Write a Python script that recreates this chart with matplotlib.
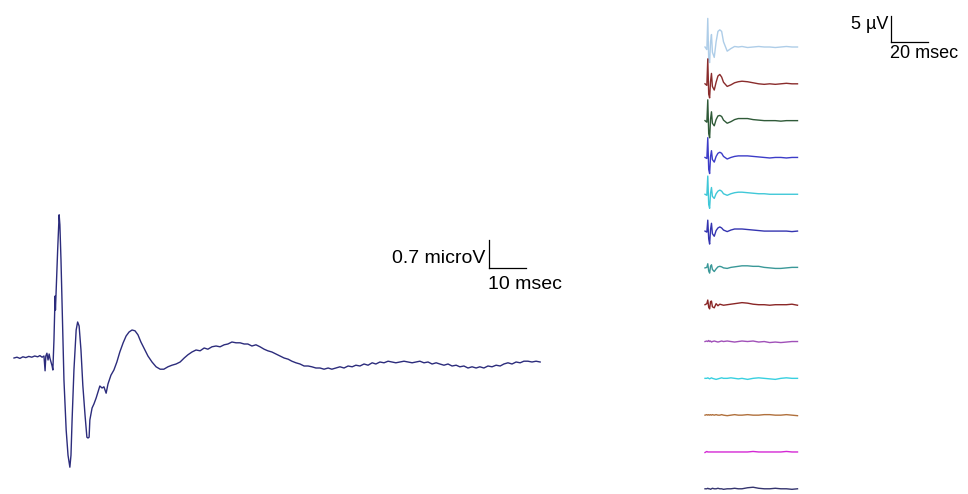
import numpy as np
from matplotlib import pyplot as plt

plt.rcParams['font.family'] = ['Liberation Sans', 'DejaVu Sans']

# grand average trace (time in msec, amplitude in microV)
avg_time = [0.0, 0.8, 1.6, 2.4, 3.2, 4.0, 4.8, 5.6, 6.4, 7.0, 7.6, 8.1,
            8.4, 8.6, 8.9, 9.2, 9.5, 9.7, 10.3, 10.5, 10.8, 11.1, 11.2, 11.4,
            11.8, 12.2, 12.4, 12.7, 13.1, 13.5, 14.1, 14.6, 14.9, 15.1, 15.4,
            15.7, 16.2, 16.8, 17.2, 17.6, 18.1, 18.6, 19.2, 19.7, 20.0, 20.3,
            20.5, 21.1, 21.6, 22.2, 22.7, 23.2, 23.8, 24.3, 24.9, 25.4, 26.2,
            27.0, 27.8, 28.6, 29.5, 30.3, 31.1, 31.9, 32.7, 33.5, 34.3, 35.1,
            36.2, 37.3, 38.4, 39.5, 40.5, 41.6, 42.7, 43.8, 44.9, 46.0, 47.0,
            48.1, 49.2, 50.3, 51.4, 52.4, 53.5, 54.6, 55.7, 56.8, 57.8, 58.9,
            60.0, 61.1, 62.2, 63.2, 64.3, 65.4, 66.5, 67.6, 68.6, 69.7, 70.8,
            71.9, 73.0, 74.1, 75.1, 76.2, 77.3, 78.4, 79.5, 80.5, 81.6, 82.7,
            83.8, 84.9, 85.9, 87.0, 88.1, 89.2, 90.3, 91.4, 92.4, 93.5, 94.6,
            95.7, 96.8, 97.8, 98.9, 100.0, 101.1, 102.2, 103.2, 104.3, 105.4,
            106.5, 107.6, 108.6, 109.7, 110.8, 111.9, 113.0, 114.1, 115.1,
            116.2, 117.3, 118.4, 119.5, 120.5, 121.6, 122.7, 123.8, 124.9,
            125.9, 127.0, 128.1, 129.2, 130.3, 131.4, 132.4, 133.5, 134.6,
            135.7, 136.8, 137.8, 138.9, 140.0, 141.1, 142.2]
avg_value = [0.00, 0.02, -0.01, 0.03, 0.01, 0.04, 0.02, 0.05, 0.03, 0.06, 0.02, 0.05,
             -0.32, 0.05, 0.12, -0.05, 0.10, 0.00, -0.20, -0.30, 0.45, 1.55, 1.20, 1.70,
             2.70, 3.58, 3.33, 2.45, 0.95, -0.55, -1.80, -2.43, -2.60, -2.73, -2.43,
             -1.55, -0.30, 0.70, 0.90, 0.80, 0.20, -0.68, -1.43, -1.98, -2.00, -1.98,
             -1.55, -1.25, -1.15, -1.00, -0.85, -0.70, -0.75, -0.72, -0.88, -0.65, -0.43,
             -0.30, -0.10, 0.15, 0.38, 0.55, 0.65, 0.70, 0.68, 0.58, 0.40, 0.25,
             0.05, -0.10, -0.22, -0.28, -0.28, -0.22, -0.18, -0.15, -0.10, 0.00, 0.08,
             0.15, 0.20, 0.18, 0.25, 0.22, 0.28, 0.30, 0.28, 0.33, 0.35, 0.40,
             0.38, 0.38, 0.35, 0.35, 0.30, 0.33, 0.28, 0.22, 0.18, 0.15, 0.10,
             0.05, 0.00, -0.03, -0.08, -0.12, -0.15, -0.20, -0.20, -0.22, -0.25, -0.25,
             -0.28, -0.25, -0.28, -0.25, -0.22, -0.25, -0.20, -0.22, -0.18, -0.20, -0.15,
             -0.18, -0.12, -0.15, -0.10, -0.12, -0.08, -0.10, -0.12, -0.10, -0.08,
             -0.10, -0.12, -0.10, -0.08, -0.12, -0.10, -0.15, -0.12, -0.15,
             -0.18, -0.15, -0.20, -0.18, -0.22, -0.20, -0.25, -0.22, -0.25,
             -0.22, -0.25, -0.20, -0.22, -0.18, -0.20, -0.15, -0.12, -0.15,
             -0.10, -0.12, -0.08, -0.08, -0.10, -0.08, -0.10]

# individual traces (time in msec, amplitude in microV)
tr_time = [0, 1, 1.5, 2, 2.5, 3, 3.5, 4, 5, 6, 7, 8, 9, 10, 12, 14, 16, 18, 20,
           23, 26, 29, 32, 35, 38, 41, 44, 47, 50]
tr_1 = [0, -0.5, 5.5, -2.5, -3.0, 1.0, 2.4, -1.0, -2.0, 1.0, 3.0, 3.3, 3.0, 1.0, -0.8,
        -0.3, 0.1, 0.0, 0.1, -0.1, 0.0, 0.1, 0.0, 0.0, -0.1, 0.0, 0.1, 0.0, 0.0]
tr_2 = [0, -0.3, 4.8, -2.0, -2.7, 0.5, 2.0, -0.5, -1.2, 0.3, 1.5, 1.8, 1.3, 0.3, -0.5,
        -0.2, 0.2, 0.4, 0.5, 0.4, 0.2, 0.0, -0.1, 0.0, -0.1, 0.0, 0.1, 0.0, 0.0]
tr_3 = [0, -0.3, 4.0, -2.5, -3.3, 0.3, 1.7, -0.5, -1.0, 0.2, 0.9, 1.0, 0.8, 0.1, -0.5,
        -0.2, 0.2, 0.4, 0.4, 0.4, 0.2, 0.1, 0.0, 0.0, 0.0, -0.1, 0.0, 0.0, 0.0]
tr_4 = [0, -0.2, 3.8, -2.3, -3.1, 0.2, 1.3, -0.4, -0.9, 0.2, 0.8, 1.0, 0.8, 0.2, -0.3,
        0.0, 0.2, 0.3, 0.3, 0.3, 0.2, 0.1, 0.0, -0.1, 0.0, 0.0, -0.1, 0.0, 0.0]
tr_5 = [0, -0.2, 3.5, -2.0, -2.7, 0.2, 1.3, -0.4, -0.8, 0.1, 0.6, 0.8, 0.6, 0.1, -0.2,
        0.1, 0.3, 0.4, 0.4, 0.3, 0.2, 0.1, 0.1, 0.0, 0.0, 0.0, 0.0, 0.0, 0.0]
tr_6 = [0, -0.2, 2.1, -1.5, -2.5, 0.3, 1.5, -0.5, -1.0, 0.1, 0.6, 0.8, 0.6, 0.2, -0.1,
        0.2, 0.4, 0.4, 0.4, 0.3, 0.2, 0.1, 0.0, 0.0, 0.0, 0.0, 0.0, -0.1, 0.0]
tr_7 = [0, 0.1, 0.8, -0.6, -1.0, 0.3, 0.6, -0.3, -0.7, -0.2, 0.2, 0.3, 0.2, 0.0, -0.1,
        0.1, 0.2, 0.3, 0.4, 0.4, 0.3, 0.3, 0.1, 0.0, -0.1, -0.1, 0.0, 0.1, 0.1]
tr_8 = [0, 0.2, 0.9, -0.5, -0.8, 0.6, 0.7, -0.4, -0.6, 0.2, -0.2, 0.1, 0.0, -0.1, 0.0,
        0.1, 0.2, 0.3, 0.4, 0.3, 0.1, 0.0, 0.0, -0.1, 0.0, 0.0, 0.0, 0.1, -0.1]
tr_9 = [0, 0.1, 0.0, 0.2, 0.0, 0.1, -0.1, 0.0, 0.1, 0.0, -0.1, 0.0, 0.1, 0.0, 0.1,
        0.0, -0.1, 0.0, 0.1, 0.0, 0.1, -0.1, 0.0, -0.2, -0.1, -0.2, -0.1, 0.0, 0.0]
tr_10 = [0, 0.0, 0.1, 0.0, -0.1, 0.0, 0.1, 0.0, -0.1, -0.2, -0.1, 0.0, 0.1, 0.0, 0.0,
         0.1, 0.0, -0.1, 0.0, -0.2, 0.0, 0.1, 0.0, -0.1, -0.2, 0.0, 0.1, 0.0, 0.0]
tr_11 = [0, 0.1, 0.0, 0.1, 0.0, 0.1, 0.0, 0.1, 0.0, 0.1, 0.0, 0.0, 0.1, 0.0, -0.1,
         0.0, 0.1, 0.0, 0.0, 0.1, 0.0, 0.0, 0.1, 0.1, 0.0, 0.0, 0.1, 0.0, -0.1]
tr_12 = [-0.1, 0.1, 0.0, 0.0, 0.0, 0.0, 0.0, 0.0, 0.0, 0.0, 0.0, 0.0, 0.0, 0.0, 0.0,
         0.0, 0.0, 0.0, 0.0, 0.0, 0.1, 0.0, 0.0, 0.0, 0.0, 0.0, 0.1, 0.0, 0.0]
tr_13 = [0, 0.0, 0.1, 0.0, 0.0, -0.1, 0.0, 0.1, 0.0, 0.0, 0.1, 0.0, 0.0, -0.1, 0.0,
         0.0, 0.1, 0.0, 0.0, 0.2, 0.3, 0.1, 0.0, 0.0, 0.1, 0.0, 0.0, -0.1, 0.0]
traces = [tr_1, tr_2, tr_3, tr_4, tr_5, tr_6, tr_7, tr_8, tr_9, tr_10, tr_11, tr_12, tr_13]
tr_colors = ['#aecde8', '#8a2c2c', '#2f5a38', '#3c3cc8', '#40c8d8', '#3434b0', '#3a9898',
             '#8a2626', '#a050b8', '#38d0e0', '#b0703c', '#d428d4', '#34346e']
tr_spacing = 7.08  # microV between stacked traces

fig = plt.figure(figsize=(9.68, 4.94), dpi=100)

# left panel: average
ax = fig.add_axes([0, 0, 1, 1])
ax.set_xlim(-14 / 3.7, 954 / 3.7)
ax.set_ylim(-136 / 40, 358 / 40)
ax.axis('off')
ax.plot(avg_time, avg_value, color='#2c2c7c', lw=1.0)
bar_t, bar_v = 128.4, 2.25
ax.plot([bar_t, bar_t], [bar_v, bar_v + 0.7], color='black', lw=0.9)
ax.plot([bar_t, bar_t + 10], [bar_v, bar_v], color='black', lw=0.9)
ax.text(bar_t - 1.0, bar_v + 0.25, '0.7 microV', ha='right', va='center', fontsize=14)
ax.text(bar_t - 0.3, bar_v - 0.42, '10 msec', ha='left', va='center', fontsize=14)

# right panel: stacked single traces
ax2 = fig.add_axes([0, 0, 1, 1])
ax2.patch.set_alpha(0)
ax2.set_xlim(-705 / 1.85, 263 / 1.85)
ax2.set_ylim(-447 / 5.2, 47 / 5.2)
ax2.axis('off')
for i, (vals, col) in enumerate(zip(traces, tr_colors)):
    ax2.plot(tr_time, np.array(vals) - i * tr_spacing, color=col, lw=1.0)
sb_t, sb_v = 100.5, 0.96
ax2.plot([sb_t, sb_t], [sb_v, sb_v + 5], color='black', lw=0.9)
ax2.plot([sb_t, sb_t + 20], [sb_v, sb_v], color='black', lw=0.9)
ax2.text(sb_t - 1.5, sb_v + 3.4, '5 µV', ha='right', va='center', fontsize=13)
ax2.text(sb_t - 0.3, sb_v - 2.3, '20 msec', ha='left', va='center', fontsize=13)

plt.savefig('out.png', dpi=100)
